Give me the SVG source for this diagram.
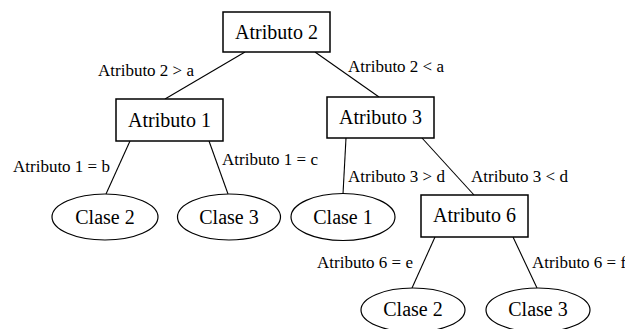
<svg xmlns="http://www.w3.org/2000/svg" width="625" height="329" viewBox="0 0 625 329">
  <style>
    .box { fill: #fff; stroke: #000; stroke-width: 1.5; }
    .leaf { fill: #fff; stroke: #000; stroke-width: 1.2; }
    .edge { stroke: #000; stroke-width: 1.1; fill: none; }
    .node-text { font-family: "Liberation Serif", "Times New Roman", serif; font-size: 20px; fill: #000; text-anchor: middle; }
    .edge-text { font-family: "Liberation Serif", "Times New Roman", serif; font-size: 17px; fill: #000; }
  </style>
  <rect width="625" height="329" fill="#fff"/>

  <!-- connectors and their conditions -->
  <g id="connectors">
    <line class="edge" x1="245" y1="52" x2="165" y2="99"/>
    <line class="edge" x1="315" y1="52" x2="379" y2="97"/>
    <line class="edge" x1="130" y1="141" x2="106" y2="194"/>
    <line class="edge" x1="209" y1="141" x2="228" y2="194"/>
    <line class="edge" x1="346" y1="138" x2="343" y2="194"/>
    <line class="edge" x1="422" y1="138" x2="474" y2="195"/>
    <line class="edge" x1="435" y1="237" x2="412" y2="288"/>
    <line class="edge" x1="513" y1="237" x2="537" y2="288"/>
    <text class="edge-text" x="98" y="76">Atributo 2 &gt; a</text>
    <text class="edge-text" x="348" y="72">Atributo 2 &lt; a</text>
    <text class="edge-text" x="13" y="172">Atributo 1 = b</text>
    <text class="edge-text" x="222" y="165">Atributo 1 = c</text>
    <text class="edge-text" x="348" y="182">Atributo 3 &gt; d</text>
    <text class="edge-text" x="471" y="182">Atributo 3 &lt; d</text>
    <text class="edge-text" x="317" y="268">Atributo 6 = e</text>
    <text class="edge-text" x="532" y="268">Atributo 6 = f</text>
  </g>

  <g id="atributo2">
    <rect class="box" x="223" y="12" width="107" height="40"/>
    <text class="node-text" x="276.5" y="39">Atributo 2</text>
  </g>
  <g id="atributo1">
    <rect class="box" x="116" y="99" width="107" height="42"/>
    <text class="node-text" x="169.5" y="127">Atributo 1</text>
  </g>
  <g id="atributo3">
    <rect class="box" x="327" y="97" width="107" height="41"/>
    <text class="node-text" x="380.5" y="124">Atributo 3</text>
  </g>
  <g id="clase2a">
    <ellipse class="leaf" cx="105" cy="217" rx="53" ry="23"/>
    <text class="node-text" x="105" y="224">Clase 2</text>
  </g>
  <g id="clase3a">
    <ellipse class="leaf" cx="229" cy="217" rx="51.5" ry="23"/>
    <text class="node-text" x="229" y="224">Clase 3</text>
  </g>
  <g id="clase1">
    <ellipse class="leaf" cx="343" cy="217" rx="52" ry="23.5"/>
    <text class="node-text" x="343" y="224">Clase 1</text>
  </g>
  <g id="atributo6">
    <rect class="box" x="421" y="195" width="107" height="42"/>
    <text class="node-text" x="474.5" y="222">Atributo 6</text>
  </g>
  <g id="clase2b">
    <ellipse class="leaf" cx="413" cy="310" rx="52" ry="22"/>
    <text class="node-text" x="413" y="316">Clase 2</text>
  </g>
  <g id="clase3b">
    <ellipse class="leaf" cx="538" cy="310" rx="52" ry="22"/>
    <text class="node-text" x="538" y="316">Clase 3</text>
  </g>
</svg>
